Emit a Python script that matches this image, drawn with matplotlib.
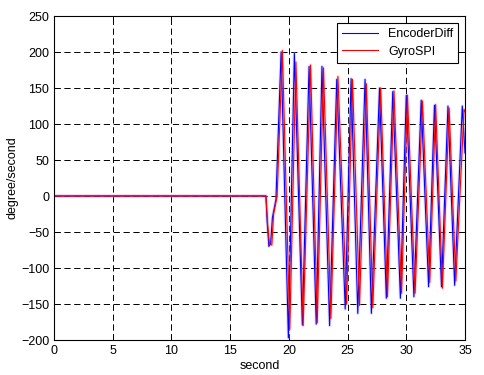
import matplotlib
matplotlib.use("Agg")
import matplotlib.pyplot as plt

# extrema (seconds, degree/second)
enc_t = [0, 18.05, 18.15, 18.3, 18.45, 18.6, 18.9, 19.34, 19.96, 20.47, 21.15, 21.72,
         22.33, 22.82, 23.47, 24.08, 24.8, 25.3, 25.87, 26.49, 27.03, 27.72, 28.3,
         28.85, 29.5, 30.0, 30.65, 31.27, 31.9, 32.4, 33.0, 33.55, 34.12, 34.77, 35.0]
enc_v = [0, 0, -35, -70, -65, -30, -5, 200, -197, 198, -179, 180,
         -178, 180, -180, 162, -157, 163, -163, 162, -163, 150, -142,
         145, -142, 140, -140, 133, -126, 126, -126, 125, -124, 125, 60]

gyro_t = [0, 18.05, 18.2, 18.35, 18.55, 18.7, 19.0, 19.45, 20.08, 20.6, 21.22, 21.85,
          22.42, 22.95, 23.58, 24.18, 24.92, 25.42, 26.02, 26.6, 27.15, 27.82, 28.4,
          28.95, 29.6, 30.1, 30.75, 31.38, 32.0, 32.5, 33.08, 33.65, 34.22, 34.92, 35.0]
gyro_v = [0, 0, -40, -67, -68, -25, 0, 202, -185, 186, -180, 182,
          -176, 178, -170, 166, -150, 162, -152, 156, -155, 150, -140,
          146, -135, 140, -135, 132, -120, 127, -128, 122, -118, 120, 117]

xticks = [0, 5, 10, 15, 20, 25, 30, 35]
yticks = [-200, -150, -100, -50, 0, 50, 100, 150, 200, 250]

plt.rcParams['font.family'] = ['Liberation Sans', 'DejaVu Sans']
plt.rcParams['font.size'] = 9
plt.rcParams['lines.scale_dashes'] = False

fig = plt.figure(figsize=(4.84, 3.75), dpi=100)
ax = fig.add_axes([0.1116, 0.0933, 0.8491, 0.864])

# pale halo like the dense original trace
ax.plot(enc_t, enc_v, color='#9a9aff', lw=2.2, alpha=0.35)
ax.plot(gyro_t, gyro_v, color='#ff9a9a', lw=2.2, alpha=0.35)
ax.plot(enc_t, enc_v, color='blue', lw=0.8, label='EncoderDiff')
ax.plot(gyro_t, gyro_v, color='red', lw=0.8, label='GyroSPI')

ax.set_xlim(0, 35)
ax.set_ylim(-200, 250)
ax.set_xticks(xticks)
ax.set_yticks(yticks)
ax.grid(True, color='black', linestyle=(0, (4.5, 2.6)), linewidth=0.7)
ax.tick_params(direction='in', length=4, top=True, right=True, width=0.7)
for s in ax.spines.values():
    s.set_linewidth(0.8)

ax.set_xlabel('second', labelpad=2)
ax.set_ylabel('degree/second', labelpad=2)

leg = ax.legend(loc='upper right', fancybox=False, framealpha=1, edgecolor='black',
                handlelength=2.9, borderaxespad=0.55, labelspacing=0.45)
leg.get_frame().set_linewidth(0.8)

fig.savefig('out.png', dpi=100)
